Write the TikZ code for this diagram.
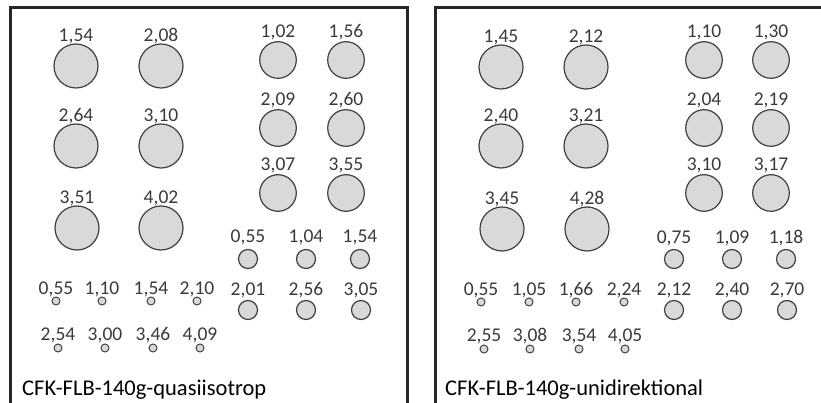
\documentclass[tikz,border=0pt]{standalone}
\usepackage{fontspec}
\setmainfont{Carlito}
\usepackage{tikz}
\usetikzlibrary{positioning}

\definecolor{holefill}{HTML}{D9D9D9}
\definecolor{holeline}{HTML}{404040}
\definecolor{valtext}{HTML}{3A3A3A}
\definecolor{frameline}{HTML}{262626}

\begin{document}
\begin{tikzpicture}[
    x=1pt, y=-1pt,
    % --- HOLE STYLES ---
    hole/.style={circle, draw=holeline, line width=1.2pt, fill=holefill, inner sep=0pt},
    bighole/.style={hole, minimum size=44pt},      % large bores
    midhole/.style={hole, minimum size=36.6pt},    % medium bores
    smallhole/.style={hole, minimum size=19pt},    % small bores
    tinyhole/.style={hole, line width=1pt, minimum size=8pt}, % tiny bores
    val/.style={inner sep=0pt, outer sep=0pt, text depth=0pt, text=valtext, font=\fontsize{19.5}{20}\selectfont},
    caption/.style={inner sep=0pt, text=black, font=\fontsize{22.5}{23}\selectfont, anchor=base west},
    panel/.style={draw=frameline, line width=3pt}
]
\clip (0,0) rectangle (821,403);

% --- 1. FRAMES ---
\draw [panel] (10.8,8) rectangle (407.5,440);
\draw [panel] (435.8,8) rectangle (850,440);

% --- 2. QUASIISOTROP: LARGE BORES ---
\node (qb1) [bighole] at (76,66) {};
\node (qb2) [bighole] at (161,66) {};
\node (qb3) [bighole] at (76,146) {};
\node (qb4) [bighole] at (161,146) {};
\node (qb5) [bighole] at (77,228) {};
\node (qb6) [bighole] at (161,228) {};
\node (qb1v) [val, above=2.3pt of qb1] {1,54};
\node (qb2v) [val, above=2.3pt of qb2] {2,08};
\node (qb3v) [val, above=2.3pt of qb3] {2,64};
\node (qb4v) [val, above=2.3pt of qb4] {3,10};
\node (qb5v) [val, above=2.3pt of qb5] {3,51};
\node (qb6v) [val, above=2.3pt of qb6] {4,02};

% --- 3. QUASIISOTROP: MEDIUM BORES ---
\node (qm1) [midhole] at (278,60) {};
\node (qm2) [midhole] at (346,60) {};
\node (qm3) [midhole] at (278,128) {};
\node (qm4) [midhole] at (346,128) {};
\node (qm5) [midhole] at (278,193) {};
\node (qm6) [midhole] at (346,193) {};
\node (qm1v) [val, above=4pt of qm1] {1,02};
\node (qm2v) [val, above=4pt of qm2] {1,56};
\node (qm3v) [val, above=3.4pt of qm3] {2,09};
\node (qm4v) [val, above=3.4pt of qm4] {2,60};
\node (qm5v) [val, above=3.4pt of qm5] {3,07};
\node (qm6v) [val, above=3.4pt of qm6] {3,55};

% --- 4. QUASIISOTROP: SMALL BORES ---
\node (qs1) [smallhole] at (248,259) {};
\node (qs2) [smallhole] at (306,259) {};
\node (qs3) [smallhole] at (360,259) {};
\node (qs4) [smallhole] at (248,310) {};
\node (qs5) [smallhole] at (306,310) {};
\node (qs6) [smallhole] at (361,310) {};
\node (qs1v) [val, above=6pt of qs1] {0,55};
\node (qs2v) [val, above=6pt of qs2] {1,04};
\node (qs3v) [val, above=6pt of qs3] {1,54};
\node (qs4v) [val, above=4.3pt of qs4] {2,01};
\node (qs5v) [val, above=4.3pt of qs5] {2,56};
\node (qs6v) [val, above=4.3pt of qs6] {3,05};

% --- 5. QUASIISOTROP: TINY BORES ---
\node (qt1) [tinyhole] at (56,301) {};
\node (qt2) [tinyhole] at (102,301) {};
\node (qt3) [tinyhole] at (151,301) {};
\node (qt4) [tinyhole] at (197,301) {};
\node (qt5) [tinyhole] at (58,348) {};
\node (qt6) [tinyhole] at (105,348) {};
\node (qt7) [tinyhole] at (153,348) {};
\node (qt8) [tinyhole] at (200,348) {};
\node (qt1v) [val, above=2pt of qt1] {0,55};
\node (qt2v) [val, above=2pt of qt2] {1,10};
\node (qt3v) [val, above=2pt of qt3] {1,54};
\node (qt4v) [val, above=2pt of qt4] {2,10};
\node (qt5v) [val, above=2.6pt of qt5] {2,54};
\node (qt6v) [val, above=2.6pt of qt6] {3,00};
\node (qt7v) [val, above=2.6pt of qt7] {3,46};
\node (qt8v) [val, above=2.6pt of qt8] {4,09};

\node (qtitle) [caption] at (22,395) {CFK-FLB-140g-quasiisotrop};

% --- 6. UNIDIREKTIONAL: LARGE BORES ---
\node (ub1) [bighole] at (501,67) {};
\node (ub2) [bighole] at (586,67) {};
\node (ub3) [bighole] at (501,146) {};
\node (ub4) [bighole] at (586,146) {};
\node (ub5) [bighole] at (502,229) {};
\node (ub6) [bighole] at (587,229) {};
\node (ub1v) [val, above=2.3pt of ub1] {1,45};
\node (ub2v) [val, above=2.3pt of ub2] {2,12};
\node (ub3v) [val, above=2.3pt of ub3] {2,40};
\node (ub4v) [val, above=2.3pt of ub4] {3,21};
\node (ub5v) [val, above=2.3pt of ub5] {3,45};
\node (ub6v) [val, above=2.3pt of ub6] {4,28};

% --- 7. UNIDIREKTIONAL: MEDIUM BORES ---
\node (um1) [midhole] at (704,60) {};
\node (um2) [midhole] at (771,60) {};
\node (um3) [midhole] at (704,128) {};
\node (um4) [midhole] at (771,128) {};
\node (um5) [midhole] at (704,193) {};
\node (um6) [midhole] at (771,193) {};
\node (um1v) [val, above=4pt of um1] {1,10};
\node (um2v) [val, above=4pt of um2] {1,30};
\node (um3v) [val, above=3.4pt of um3] {2,04};
\node (um4v) [val, above=3.4pt of um4] {2,19};
\node (um5v) [val, above=3.4pt of um5] {3,10};
\node (um6v) [val, above=3.4pt of um6] {3,17};

% --- 8. UNIDIREKTIONAL: SMALL BORES ---
\node (us1) [smallhole] at (674,259) {};
\node (us2) [smallhole] at (732,259) {};
\node (us3) [smallhole] at (786,259) {};
\node (us4) [smallhole] at (674,310) {};
\node (us5) [smallhole] at (732,310) {};
\node (us6) [smallhole] at (787,310) {};
\node (us1v) [val, above=5.5pt of us1] {0,75};
\node (us2v) [val, above=5.5pt of us2] {1,09};
\node (us3v) [val, above=5.5pt of us3] {1,18};
\node (us4v) [val, above=4.3pt of us4] {2,12};
\node (us5v) [val, above=4.3pt of us5] {2,40};
\node (us6v) [val, above=4.3pt of us6] {2,70};

% --- 9. UNIDIREKTIONAL: TINY BORES ---
\node (ut1) [tinyhole] at (481,302) {};
\node (ut2) [tinyhole] at (529,302) {};
\node (ut3) [tinyhole] at (576,302) {};
\node (ut4) [tinyhole] at (624,302) {};
\node (ut5) [tinyhole] at (484,349) {};
\node (ut6) [tinyhole] at (530,349) {};
\node (ut7) [tinyhole] at (579,349) {};
\node (ut8) [tinyhole] at (625,349) {};
\node (ut1v) [val, above=2.5pt of ut1] {0,55};
\node (ut2v) [val, above=2.5pt of ut2] {1,05};
\node (ut3v) [val, above=2.5pt of ut3] {1,66};
\node (ut4v) [val, above=2.5pt of ut4] {2,24};
\node (ut5v) [val, above=2.6pt of ut5] {2,55};
\node (ut6v) [val, above=2.6pt of ut6] {3,08};
\node (ut7v) [val, above=2.6pt of ut7] {3,54};
\node (ut8v) [val, above=2.6pt of ut8] {4,05};

\node (utitle) [caption] at (445,395) {CFK-FLB-140g-unidirektional};

\end{tikzpicture}
\end{document}
